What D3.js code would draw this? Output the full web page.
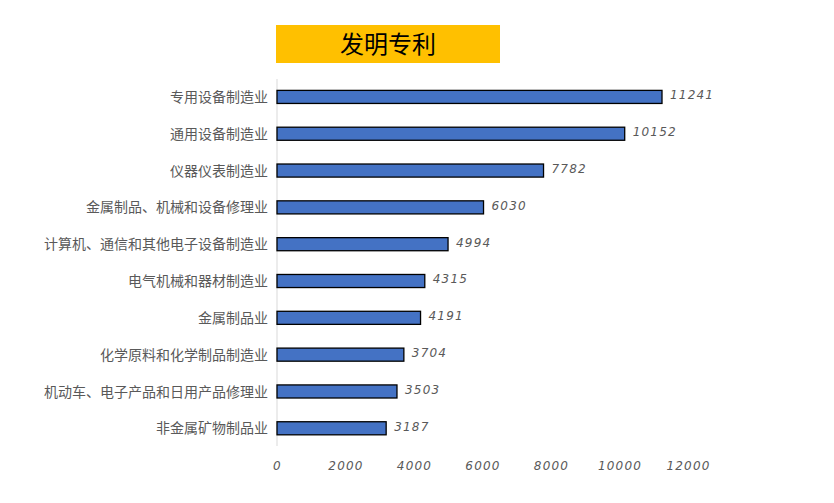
<!DOCTYPE html>
<html><head><meta charset="utf-8">
<script src="https://cdn.jsdelivr.net/npm/d3@7"></script>
<style>body{margin:0;background:#fff}</style>
</head><body>
<svg id="c" width="834" height="503"></svg>
<script>
const categories = ["专用设备制造业","通用设备制造业","仪器仪表制造业","金属制品、机械和设备修理业","计算机、通信和其他电子设备制造业","电气机械和器材制造业","金属制品业","化学原料和化学制品制造业","机动车、电子产品和日用产品修理业","非金属矿物制品业"];
const values = [11241,10152,7782,6030,4994,4315,4191,3704,3503,3187];
const tickValues = [0,2000,4000,6000,8000,10000,12000];
const title = "发明专利";

const svg = d3.select("#c");
const x = d3.scaleLinear().domain([0,12000]).range([277,688]);
const y = d3.scaleBand().domain(categories).range([78.6,446.6]).paddingInner(0.645).paddingOuter(0.32);

svg.append("rect").attr("x",276).attr("y",25).attr("width",224).attr("height",38).attr("fill","#FFC000");
svg.append("text").attr("x",388).attr("y",53).attr("text-anchor","middle")
  .attr("font-family","Noto Sans CJK SC").attr("font-size",24).attr("font-weight",400).attr("fill","#000").text(title);

svg.append("line").attr("x1",277).attr("x2",277).attr("y1",79).attr("y2",446).attr("stroke","#d9d9d9").attr("stroke-width",1);

svg.selectAll("rect.bar").data(values).enter().append("rect").attr("class","bar")
  .attr("x",x(0)).attr("y",(d,i)=>y(categories[i]))
  .attr("width",d=>x(d)-x(0)).attr("height",y.bandwidth())
  .attr("fill","#4472C4").attr("stroke","#000").attr("stroke-width",1.3);

svg.selectAll("text.cat").data(categories).enter().append("text").attr("class","cat")
  .attr("x",268).attr("y",d=>y(d)+y.bandwidth()/2).attr("dy","0.36em").attr("text-anchor","end")
  .attr("font-family","Noto Sans CJK SC").attr("font-size",14).attr("fill","#595959").text(d=>d);

svg.selectAll("text.val").data(values).enter().append("text").attr("class","val")
  .attr("x",d=>x(d)+8).attr("y",(d,i)=>y(categories[i])+y.bandwidth()/2).attr("dy","0.2em")
  .attr("font-family","DejaVu Sans").attr("font-style","italic").attr("font-size",12).attr("letter-spacing",1.2).attr("fill","#595959").text(d=>d);

const ax = svg.append("g").attr("transform","translate(0,467)")
  .call(d3.axisBottom(x).tickValues(tickValues).tickSize(0).tickFormat(d3.format("d")));
ax.select(".domain").remove();
ax.selectAll("text").attr("font-family","DejaVu Sans").attr("font-style","italic").attr("font-size",12).attr("letter-spacing",1.2).attr("fill","#595959").attr("dy","0");
</script>
</body></html>
